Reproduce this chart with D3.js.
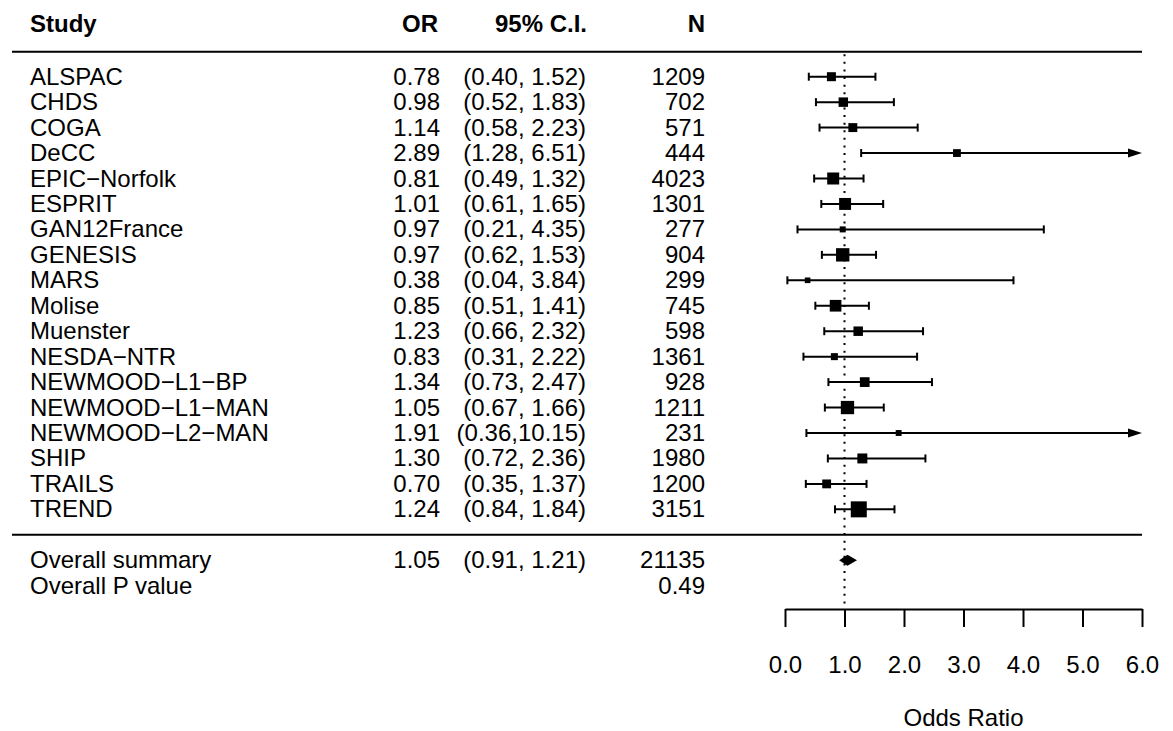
<!DOCTYPE html>
<html>
<head>
  <meta charset="utf-8">
  <script src="https://d3js.org/d3.v7.min.js"></script>
  <style>
  body {
    margin: 0;
    background: #fff;
  }
  text {
    font-family: "Liberation Sans", Arial, Helvetica, sans-serif;
    font-size: 24px;
    fill: #000;
  }
  .head text {
    font-weight: bold;
  }
  .axis path, .axis line {
    stroke: #000;
    stroke-width: 2px;
  }
  .axis text {
    font-family: "Liberation Sans", Arial, Helvetica, sans-serif;
    font-size: 24px;
  }
</style>
</head>
<body>
<script>

  // study rows
  var studies = ["ALSPAC", "CHDS", "COGA", "DeCC", "EPIC\u2212Norfolk", "ESPRIT",
    "GAN12France", "GENESIS", "MARS", "Molise", "Muenster", "NESDA\u2212NTR",
    "NEWMOOD\u2212L1\u2212BP", "NEWMOOD\u2212L1\u2212MAN", "NEWMOOD\u2212L2\u2212MAN",
    "SHIP", "TRAILS", "TREND"];
  var oddsRatio = [0.78, 0.98, 1.14, 2.89, 0.81, 1.01, 0.97, 0.97, 0.38, 0.85,
    1.23, 0.83, 1.34, 1.05, 1.91, 1.30, 0.70, 1.24];
  var ciLower = [0.40, 0.52, 0.58, 1.28, 0.49, 0.61, 0.21, 0.62, 0.04, 0.51,
    0.66, 0.31, 0.73, 0.67, 0.36, 0.72, 0.35, 0.84];
  var ciUpper = [1.52, 1.83, 2.23, 6.51, 1.32, 1.65, 4.35, 1.53, 3.84, 1.41,
    2.32, 2.22, 2.47, 1.66, 10.15, 2.36, 1.37, 1.84];
  var sampleN = [1209, 702, 571, 444, 4023, 1301, 277, 904, 299, 745,
    598, 1361, 928, 1211, 231, 1980, 1200, 3151];

  // pooled result
  var summaryLabels = ["Overall summary", "Overall P value"];
  var summaryOR = 1.05, summaryLower = 0.91, summaryUpper = 1.21;
  var totalN = 21135, pValue = "0.49";

  var headers = ["Study", "OR", "95% C.I.", "N"];
  var xTicks = [0, 1, 2, 3, 4, 5, 6];

  var width = 1173, height = 731;

  var svg = d3.select("body").append("svg")
    .attr("width", width)
    .attr("height", height);

  var x = d3.scaleLinear().domain([0, 6]).range([785, 1142]);
  // one text line per row; rows 0-17 studies, 19-20 summary
  var y = d3.scaleLinear().domain([0, 20]).range([76.7, 585.7]);

  var col = {study: 30, or: 440, ci: 586, n: 705};
  var f2 = d3.format(".2f");
  function ciText(lo, hi) {
    return "(" + f2(lo) + "," + f2(hi).padStart(5, " ") + ")";
  }

  var rows = studies.map(function(s, i) {
    return {study: s, or: oddsRatio[i], lo: ciLower[i], hi: ciUpper[i], n: sampleN[i], i: i};
  });

  // inverse variance on log scale sets the box size
  rows.forEach(function(d) {
    var w = Math.log(d.hi / d.lo);
    d.w = 1 / (w * w);
  });
  var box = d3.scaleLinear()
    .domain([0, d3.max(rows, function(d) { return d.w; })])
    .range([5.3, 16]);

  // header
  var head = svg.append("g").attr("class", "head");
  head.append("text").attr("x", col.study).attr("y", 32).text(headers[0]);
  head.append("text").attr("x", col.or - 2).attr("y", 32).attr("text-anchor", "end").text(headers[1]);
  head.append("text").attr("x", col.ci + 1).attr("y", 32).attr("text-anchor", "end").text(headers[2]);
  head.append("text").attr("x", col.n).attr("y", 32).attr("text-anchor", "end").text(headers[3]);

  // rules
  [y(-1) + 0.5, y(18)].forEach(function(yy) {
    svg.append("line")
      .attr("x1", 12).attr("x2", x(6))
      .attr("y1", yy).attr("y2", yy)
      .attr("stroke", "#000").attr("stroke-width", 2);
  });

  // table text
  var table = svg.append("g");
  var tr = table.selectAll("g.row").data(rows).enter().append("g")
    .attr("class", "row")
    .attr("transform", function(d) { return "translate(0," + (y(d.i) + 8) + ")"; });
  tr.append("text").attr("x", col.study).text(function(d) { return d.study; });
  tr.append("text").attr("x", col.or).attr("text-anchor", "end").text(function(d) { return f2(d.or); });
  tr.append("text").attr("x", col.ci).attr("text-anchor", "end").style("white-space", "pre")
    .text(function(d) { return ciText(d.lo, d.hi); });
  tr.append("text").attr("x", col.n).attr("text-anchor", "end").text(function(d) { return d.n; });

  table.append("text").attr("x", col.study).attr("y", y(19) + 8).text(summaryLabels[0]);
  table.append("text").attr("x", col.or).attr("y", y(19) + 8).attr("text-anchor", "end").text(f2(summaryOR));
  table.append("text").attr("x", col.ci).attr("y", y(19) + 8).attr("text-anchor", "end")
    .style("white-space", "pre").text(ciText(summaryLower, summaryUpper));
  table.append("text").attr("x", col.n).attr("y", y(19) + 8).attr("text-anchor", "end").text(totalN);
  table.append("text").attr("x", col.study).attr("y", y(20) + 8).text(summaryLabels[1]);
  table.append("text").attr("x", col.n).attr("y", y(20) + 8).attr("text-anchor", "end").text(pValue);

  // reference line at OR = 1
  svg.append("line")
    .attr("x1", x(1)).attr("x2", x(1))
    .attr("y1", y(-1) + 3).attr("y2", 605)
    .attr("stroke", "#000").attr("stroke-width", 2)
    .attr("stroke-dasharray", "2 5.6");

  // confidence intervals
  var plot = svg.append("g");
  var ci = plot.selectAll("g.ci").data(rows).enter().append("g")
    .attr("class", "ci")
    .attr("transform", function(d) { return "translate(0," + y(d.i) + ")"; });

  ci.append("line")
    .attr("x1", function(d) { return x(d.lo); })
    .attr("x2", function(d) { return d.hi > 6 ? x(6) - 12 : x(d.hi); })
    .attr("stroke", "#000").attr("stroke-width", 2);

  ci.append("line")
    .attr("x1", function(d) { return x(d.lo); })
    .attr("x2", function(d) { return x(d.lo); })
    .attr("y1", -4).attr("y2", 4)
    .attr("stroke", "#000").attr("stroke-width", 2);

  ci.filter(function(d) { return d.hi <= 6; }).append("line")
    .attr("x1", function(d) { return x(d.hi); })
    .attr("x2", function(d) { return x(d.hi); })
    .attr("y1", -4).attr("y2", 4)
    .attr("stroke", "#000").attr("stroke-width", 2);

  ci.filter(function(d) { return d.hi > 6; }).append("path")
    .attr("d", "M" + (x(6) - 14) + ",-4.5L" + x(6) + ",0L" + (x(6) - 14) + ",4.5Z")
    .attr("fill", "#000");

  ci.append("rect")
    .attr("x", function(d) { return x(d.or) - box(d.w) / 2; })
    .attr("y", function(d) { return -box(d.w) / 2; })
    .attr("width", function(d) { return box(d.w); })
    .attr("height", function(d) { return box(d.w); })
    .attr("fill", "#000");

  // summary diamond
  var sy = y(19);
  plot.append("path")
    .attr("d", "M" + x(summaryLower) + "," + sy +
      "L" + x(summaryOR) + "," + (sy - 5.5) +
      "L" + x(summaryUpper) + "," + sy +
      "L" + x(summaryOR) + "," + (sy + 5.5) + "Z")
    .attr("fill", "#000");

  // axis
  var xAxis = d3.axisBottom(x)
    .tickValues(xTicks)
    .tickFormat(d3.format(".1f"))
    .tickSize(18)
    .tickSizeOuter(0)
    .tickPadding(29);

  svg.append("g")
    .attr("class", "axis")
    .attr("transform", "translate(0,609)")
    .call(xAxis)
    .call(function(g) { g.selectAll("text").attr("fill", "#000"); });

  svg.append("text")
    .attr("x", (x(0) + x(6)) / 2)
    .attr("y", 726)
    .attr("text-anchor", "middle")
    .text("Odds Ratio");

</script>
</body>
</html>
